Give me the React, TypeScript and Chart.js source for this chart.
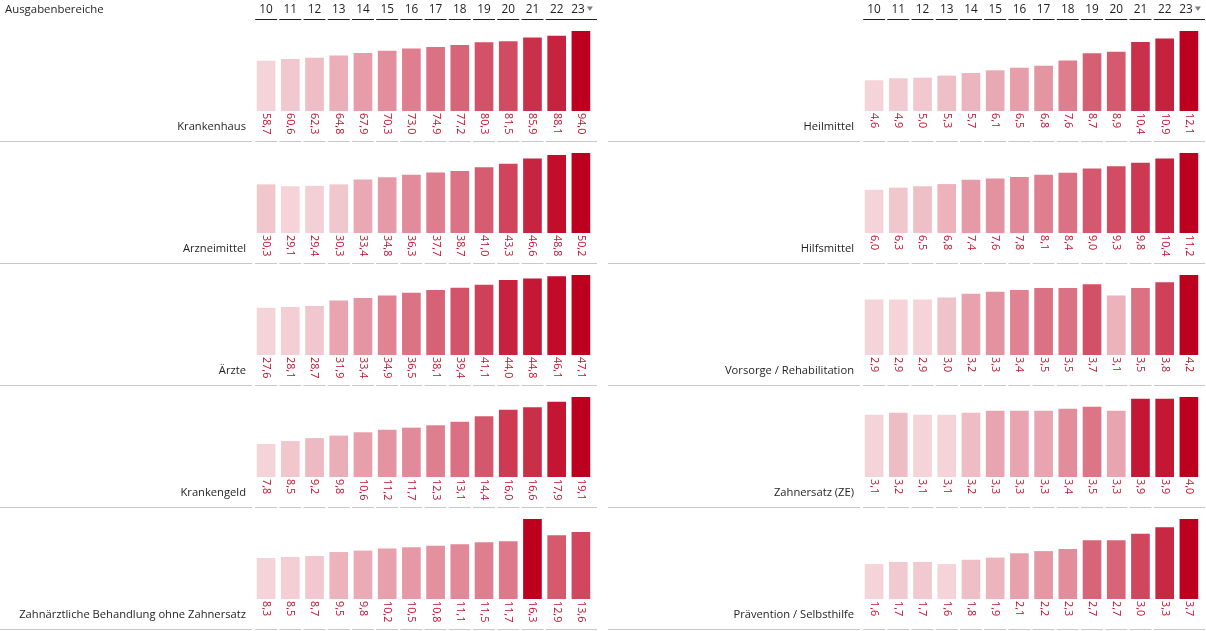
import React, { useEffect, useRef } from 'react';
import { Chart, registerables } from 'chart.js';

Chart.register(...registerables);

const headerTitle = 'Ausgabenbereiche';
const years = ['10', '11', '12', '13', '14', '15', '16', '17', '18', '19', '20', '21', '22', '23'];

// Left column
const krankenhaus = [58.7, 60.6, 62.3, 64.8, 67.9, 70.3, 73.0, 74.9, 77.2, 80.3, 81.5, 85.9, 88.1, 94.0];
const arzneimittel = [30.3, 29.1, 29.4, 30.3, 33.4, 34.8, 36.3, 37.7, 38.7, 41.0, 43.3, 46.6, 48.8, 50.2];
const aerzte = [27.6, 28.1, 28.7, 31.9, 33.4, 34.9, 36.5, 38.1, 39.4, 41.1, 44.0, 44.8, 46.1, 47.1];
const krankengeld = [7.8, 8.5, 9.2, 9.8, 10.6, 11.2, 11.7, 12.3, 13.1, 14.4, 16.0, 16.6, 17.9, 19.1];
const zahnaerztlich = [8.3, 8.5, 8.7, 9.5, 9.8, 10.2, 10.5, 10.8, 11.1, 11.5, 11.7, 16.3, 12.9, 13.6];

// Right column
const heilmittel = [4.6, 4.9, 5.0, 5.3, 5.7, 6.1, 6.5, 6.8, 7.6, 8.7, 8.9, 10.4, 10.9, 12.1];
const hilfsmittel = [6.0, 6.3, 6.5, 6.8, 7.4, 7.6, 7.8, 8.1, 8.4, 9.0, 9.3, 9.8, 10.4, 11.2];
const vorsorge = [2.9, 2.9, 2.9, 3.0, 3.2, 3.3, 3.4, 3.5, 3.5, 3.7, 3.1, 3.5, 3.8, 4.2];
const zahnersatz = [3.1, 3.2, 3.1, 3.1, 3.2, 3.3, 3.3, 3.3, 3.4, 3.5, 3.3, 3.9, 3.9, 4.0];
const praevention = [1.6, 1.7, 1.7, 1.6, 1.8, 1.9, 2.1, 2.2, 2.3, 2.7, 2.7, 3.0, 3.3, 3.7];

const leftLabels = ['Krankenhaus', 'Arzneimittel', 'Ärzte', 'Krankengeld', 'Zahnärztliche Behandlung ohne Zahnersatz'];
const leftSeries = [krankenhaus, arzneimittel, aerzte, krankengeld, zahnaerztlich];
const rightLabels = ['Heilmittel', 'Hilfsmittel', 'Vorsorge / Rehabilitation', 'Zahnersatz (ZE)', 'Prävention / Selbsthilfe'];
const rightSeries = [heilmittel, hilfsmittel, vorsorge, zahnersatz, praevention];

const FONT = '"Open Sans", "Noto Sans", sans-serif';
const LIGHT = [244, 211, 217];
const DARK = [190, 0, 31];
const PANEL_W = 598;
const HEADER_H = 20;
const ROW_H = 122;

function colorFor(v: number, min: number, max: number) {
  const t = max === min ? 1 : (v - min) / (max - min);
  const c = LIGHT.map((l, i) => Math.round(l + (DARK[i] - l) * t));
  return `rgb(${c[0]},${c[1]},${c[2]})`;
}

function fmt(v: number) {
  return v.toFixed(1).replace('.', ',');
}

type PanelProps = {
  label: string;
  values: number[];
  header: boolean;
  showTitle: boolean;
  left: number;
  top: number;
};

function Panel({ label, values, header, showTitle, left, top }: PanelProps) {
  const ref = useRef<HTMLCanvasElement | null>(null);
  const H = ROW_H + (header ? HEADER_H : 0);

  useEffect(() => {
    if (!ref.current) return;
    const min = Math.min(...values);
    const max = Math.max(...values);
    const colors = values.map((v) => colorFor(v, min, max));

    const panelPlugin = {
      id: 'panelDecor',
      afterDatasetsDraw(chart: any) {
        const ctx = chart.ctx as CanvasRenderingContext2D;
        const area = chart.chartArea;
        const xs = chart.scales.x;
        const W = chart.width;
        const n = years.length;
        const segs: [number, number][] = [];
        for (let i = 0; i < n; i++) {
          const c = xs.getPixelForValue(i);
          if (i < n - 1) segs.push([c - 11, c + 11]);
          else segs.push([c - 14, W - 1]);
        }
        ctx.save();
        // value labels (rotated)
        const meta = chart.getDatasetMeta(0);
        ctx.fillStyle = '#c50f2c';
        ctx.font = `10.8px ${FONT}`;
        ctx.textAlign = 'left';
        ctx.textBaseline = 'middle';
        meta.data.forEach((el: any, i: number) => {
          ctx.save();
          ctx.translate(el.x, area.bottom + 2);
          ctx.rotate(Math.PI / 2);
          ctx.fillText(fmt(values[i]), 0, 0);
          ctx.restore();
        });
        // row label
        ctx.fillStyle = '#201f1e';
        ctx.font = `11.2px ${FONT}`;
        ctx.textAlign = 'right';
        ctx.textBaseline = 'middle';
        ctx.fillText(label, 246, H - 15);
        // separator
        ctx.strokeStyle = '#c8c8c8';
        ctx.lineWidth = 1;
        ctx.beginPath();
        ctx.moveTo(0, H - 0.5);
        ctx.lineTo(252, H - 0.5);
        segs.forEach(([a, b]) => {
          ctx.moveTo(a, H - 0.5);
          ctx.lineTo(b, H - 0.5);
        });
        ctx.stroke();
        // header
        if (header) {
          ctx.fillStyle = '#201f1e';
          ctx.font = `11.4px ${FONT}`;
          ctx.textBaseline = 'middle';
          if (showTitle) {
            ctx.textAlign = 'left';
            ctx.fillText(headerTitle, 5, 10);
          }
          ctx.font = `11.8px ${FONT}`;
          ctx.textAlign = 'center';
          years.forEach((y, i) => {
            ctx.fillText(y, segs[i][0] + 11, 10);
          });
          ctx.strokeStyle = '#201f1e';
          ctx.beginPath();
          segs.forEach(([a, b]) => {
            ctx.moveTo(a, 19.5);
            ctx.lineTo(b, 19.5);
          });
          ctx.stroke();
          // sort indicator
          const tx = segs[n - 1][0] + 23;
          ctx.fillStyle = '#808080';
          ctx.beginPath();
          ctx.moveTo(tx - 3, 6.5);
          ctx.lineTo(tx + 3, 6.5);
          ctx.lineTo(tx, 11);
          ctx.closePath();
          ctx.fill();
        }
        ctx.restore();
      },
    };

    const chart = new Chart(ref.current, {
      type: 'bar',
      data: {
        labels: years,
        datasets: [
          {
            data: values,
            backgroundColor: colors,
            borderWidth: 0,
            barThickness: 18,
          },
        ],
      },
      options: {
        animation: false,
        responsive: false,
        devicePixelRatio: 1,
        events: [],
        layout: {
          padding: { left: 254, right: 5, top: (header ? HEADER_H : 0) + 11, bottom: 31 },
        },
        scales: {
          x: { type: 'category', display: false, offset: true, grid: { display: false } },
          y: { type: 'linear', display: false, min: 0, max: max },
        },
        plugins: {
          legend: { display: false },
          tooltip: { enabled: false },
        },
      },
      plugins: [panelPlugin],
    });
    return () => chart.destroy();
  }, [label, values, header, showTitle, H]);

  return (
    <canvas
      ref={ref}
      width={PANEL_W}
      height={H}
      style={{ position: 'absolute', left, top, width: PANEL_W, height: H }}
    />
  );
}

export default function App() {
  const rowTop = (k: number) => (k === 0 ? 0 : HEADER_H + ROW_H * k);
  return (
    <div
      style={{
        position: 'fixed',
        left: 0,
        top: 0,
        width: 1206,
        height: 631,
        background: '#ffffff',
        overflow: 'hidden',
      }}
    >
      {leftSeries.map((vals, k) => (
        <Panel
          key={'l' + k}
          label={leftLabels[k]}
          values={vals}
          header={k === 0}
          showTitle={true}
          left={0}
          top={rowTop(k)}
        />
      ))}
      {rightSeries.map((vals, k) => (
        <Panel
          key={'r' + k}
          label={rightLabels[k]}
          values={vals}
          header={k === 0}
          showTitle={false}
          left={608}
          top={rowTop(k)}
        />
      ))}
    </div>
  );
}
